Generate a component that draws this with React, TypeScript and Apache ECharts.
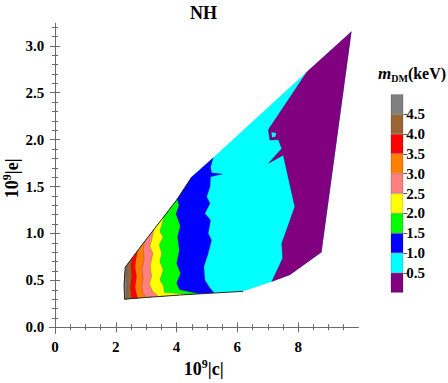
import { useEffect, useRef } from "react";
import * as echarts from "echarts";

const FONT = "'Liberation Serif', 'Times New Roman', serif";
const FRAME = "#6a6a6a";

// axis ranges and ticks
const X_MIN = -0.19;
const X_MAX = 9.98;
const Y_MIN = -0.064;
const Y_MAX = 3.24;
const xMajorTicks = [0, 2, 4, 6, 8];
const xMinorTicks = [0.5, 1, 1.5, 2.5, 3, 3.5, 4.5, 5, 5.5, 6.5, 7, 7.5, 8.5, 9, 9.5];
const yMajorTicks = [0, 0.5, 1, 1.5, 2, 2.5, 3];
const yMinorTicks = [
  0.1, 0.2, 0.3, 0.4, 0.6, 0.7, 0.8, 0.9, 1.1, 1.2, 1.3, 1.4, 1.6, 1.7, 1.8, 1.9,
  2.1, 2.2, 2.3, 2.4, 2.6, 2.7, 2.8, 2.9, 3.1, 3.2,
];

// colour bar (m_DM in keV)
const bandColors = ["#800080", "#00ffff", "#0000ff", "#00ff00", "#ffff00", "#ff8080", "#ff8000", "#ff0000", "#996633", "#808080"];
const bandSteps = [0.5, 0.5, 0.5, 0.5, 0.5, 0.5, 0.5, 0.5, 0.5, 0.5];
const bandEdges = [0.5, 1.0, 1.5, 2.0, 2.5, 3.0, 3.5, 4.0, 4.5];

// outer boundary of the allowed region (10^9|c|, 10^9|e|)
const bottomEdge = [[2.29, 0.3], [3.0, 0.318], [4.1, 0.344], [5.2, 0.365], [6.19, 0.383]];
const rightEdge = [[7.13, 0.486], [7.73, 0.557], [8.77, 0.8], [9.76, 3.155]];
const upperEdge = [[2.31, 0.64], [2.9, 0.895], [3.45, 1.125], [4.0, 1.356], [4.5, 1.604], [5.48, 1.89], [8.28, 2.72]];
const leftEdge = [[2.27, 0.45]];

// contour boundaries (top point on the upper edge -> bottom point on the lower edge)
const grayBrown = [[2.36, 0.662], [2.35, 0.55], [2.37, 0.45], [2.35, 0.36], [2.36, 0.302]];
const brownRed = [[2.55, 0.744], [2.5, 0.66], [2.53, 0.54], [2.48, 0.43], [2.52, 0.33], [2.52, 0.305]];
const redOrange = [[2.72, 0.817], [2.67, 0.74], [2.63, 0.645], [2.68, 0.54], [2.63, 0.43], [2.68, 0.35], [2.72, 0.311]];
const orangePink = [[2.95, 0.916], [2.9, 0.83], [2.93, 0.72], [2.86, 0.62], [2.9, 0.52], [2.85, 0.43], [2.9, 0.36], [3.0, 0.318]];
const pinkYellow = [[3.25, 1.041], [3.2, 0.96], [3.12, 0.86], [3.22, 0.79], [3.13, 0.65], [3.18, 0.54], [3.1, 0.47], [3.2, 0.39], [3.4, 0.328]];
const yellowGreen = [[3.6, 1.188], [3.51, 1.09], [3.45, 1.018], [3.56, 0.965], [3.43, 0.876], [3.51, 0.788], [3.45, 0.699], [3.56, 0.61], [3.45, 0.504], [3.56, 0.45], [3.6, 0.37], [4.5, 0.352]];
const greenBlue = [[4.02, 1.366], [4.08, 1.3], [3.98, 1.21], [4.12, 1.08], [4.03, 0.965], [4.09, 0.82], [4.0, 0.68], [4.13, 0.575], [4.0, 0.47], [4.1, 0.4], [4.75, 0.357]];
const blueCyan = [[5.21, 1.81], [5.12, 1.71], [5.15, 1.646], [5.52, 1.633], [5.12, 1.604], [5.1, 1.497], [4.99, 1.391], [5.1, 1.32], [4.93, 1.214], [5.12, 1.143], [5.04, 1.0], [5.15, 0.93], [5.04, 0.788], [4.9, 0.645], [4.93, 0.504], [5.08, 0.426], [5.24, 0.366]];
// purple / cyan boundary (bottom -> top)
const cyanPurple = [[7.13, 0.486], [7.49, 0.735], [7.46, 0.894], [7.89, 1.284], [7.51, 1.835], [7.02, 1.747], [7.46, 1.906], [7.35, 2.0], [7.07, 1.995], [7.02, 2.1], [7.07, 2.136], [8.28, 2.72]];
const cyanBlob = [[7.12, 2.08], [7.28, 2.07], [7.25, 2.03], [7.14, 2.025]];

function leftRegion(boundary: number[][]) {
  const top = boundary[0];
  const bot = boundary[boundary.length - 1];
  const bottomPts = bottomEdge.filter((p) => p[0] < bot[0]).reverse();
  const upperPts = upperEdge.filter((p) => p[0] < top[0]);
  return [...boundary, ...bottomPts, ...leftEdge, ...upperPts];
}

const outer = [...bottomEdge, ...rightEdge, ...upperEdge.slice().reverse(), ...leftEdge];
const purpleRegion = [...cyanPurple, ...rightEdge.slice(1).reverse()];

function polySeries(pts: number[][], fill: string, z: number) {
  return {
    type: "custom",
    coordinateSystem: "cartesian2d",
    xAxisIndex: 0,
    yAxisIndex: 0,
    silent: true,
    z,
    data: [pts[0]],
    encode: { x: 0, y: 1 },
    renderItem: (_p: any, api: any) => ({
      type: "polygon",
      shape: { points: pts.map((p) => api.coord(p)) },
      style: { fill, stroke: "none" },
    }),
  };
}

function lineSeries(pts: number[][], color: string, width: number, z: number) {
  return {
    type: "line",
    xAxisIndex: 0,
    yAxisIndex: 0,
    data: pts,
    symbol: "none",
    silent: true,
    z,
    lineStyle: { color, width },
  };
}

const labelStyle = { fontFamily: FONT, fontWeight: "bold", fontSize: 15, color: "#000" };

function xAx(position: string, ticks: number[], len: number, labels: boolean, line: boolean) {
  return {
    type: "value",
    gridIndex: 0,
    min: X_MIN,
    max: X_MAX,
    position,
    splitLine: { show: false },
    axisLine: { show: line, lineStyle: { color: FRAME, width: 1 } },
    axisTick: { show: true, inside: true, length: len, customValues: ticks, lineStyle: { color: FRAME, width: 1 } },
    axisLabel: labels
      ? { show: true, customValues: ticks, formatter: (v: number) => String(v), margin: 6, ...labelStyle }
      : { show: false },
  };
}

function yAx(position: string, ticks: number[], len: number, labels: boolean, line: boolean) {
  return {
    type: "value",
    gridIndex: 0,
    min: Y_MIN,
    max: Y_MAX,
    position,
    splitLine: { show: false },
    axisLine: { show: line, lineStyle: { color: FRAME, width: 1 } },
    axisTick: { show: true, inside: true, length: len, customValues: ticks, lineStyle: { color: FRAME, width: 1 } },
    axisLabel: labels
      ? { show: true, customValues: ticks, formatter: (v: number) => v.toFixed(1), margin: 5, ...labelStyle }
      : { show: false },
  };
}

const layerList: [number[][], string][] = [
  [blueCyan, bandColors[2]],
  [greenBlue, bandColors[3]],
  [yellowGreen, bandColors[4]],
  [pinkYellow, bandColors[5]],
  [orangePink, bandColors[6]],
  [redOrange, bandColors[7]],
  [brownRed, bandColors[8]],
  [grayBrown, bandColors[9]],
];

const series: any[] = [
  polySeries(outer, bandColors[1], 2),
  polySeries(purpleRegion, bandColors[0], 3),
  polySeries(cyanBlob, bandColors[1], 4),
  ...layerList.map(([b, c], i) => polySeries(leftRegion(b), c, 5 + i)),
  lineSeries(cyanPurple.slice(0, -1), "rgba(20,60,80,0.55)", 0.8, 20),
  ...layerList.map(([b]) => lineSeries(b, "rgba(0,0,0,0.3)", 0.6, 20)),
  lineSeries([...bottomEdge.slice().reverse(), ...leftEdge, ...upperEdge.slice(0, 5)], "#2a2a2a", 1, 21),
  ...bandSteps.map((v, i) => ({
    type: "bar",
    xAxisIndex: 4,
    yAxisIndex: 4,
    stack: "cb",
    barWidth: "100%",
    silent: true,
    data: [v],
    itemStyle: { color: bandColors[i], borderColor: "rgba(0,0,0,0.3)", borderWidth: 0.6 },
  })),
];

const option: any = {
  animation: false,
  backgroundColor: "#fff",
  grid: [
    { left: 49.3, top: 23.3, width: 309, height: 310, containLabel: false },
    { left: 390.7, top: 94.3, width: 12.6, height: 198.4, containLabel: false },
  ],
  xAxis: [
    xAx("bottom", xMajorTicks, 5, true, true),
    xAx("bottom", xMinorTicks, 3, false, false),
    xAx("top", xMajorTicks, 5, false, true),
    xAx("top", xMinorTicks, 3, false, false),
    { type: "category", gridIndex: 1, data: ["m"], show: false },
  ],
  yAxis: [
    yAx("left", yMajorTicks, 5, true, true),
    yAx("left", yMinorTicks, 3, false, false),
    yAx("right", yMajorTicks, 5, false, true),
    yAx("right", yMinorTicks, 3, false, false),
    {
      type: "value",
      gridIndex: 1,
      min: 0,
      max: 5,
      position: "right",
      splitLine: { show: false },
      axisLine: { show: false },
      axisTick: { show: true, inside: false, length: 4, customValues: bandEdges, lineStyle: { color: "#555" } },
      axisLabel: { show: true, customValues: bandEdges, formatter: (v: number) => v.toFixed(1), margin: 3, ...labelStyle },
    },
  ],
  graphic: [
    {
      type: "text",
      x: 203.5,
      y: 12.5,
      style: { text: "NH", fontFamily: FONT, fontWeight: "bold", fontSize: 18, fill: "#000", align: "center", verticalAlign: "middle" },
    },
    {
      type: "text",
      x: 203.8,
      y: 369,
      style: {
        text: "{a|10}{s|9}{a||c|}",
        align: "center",
        verticalAlign: "middle",
        rich: {
          a: { fontFamily: FONT, fontWeight: "bold", fontSize: 18, fill: "#000", lineHeight: 22 },
          s: { fontFamily: FONT, fontWeight: "bold", fontSize: 12, fill: "#000", lineHeight: 12, verticalAlign: "top" },
        },
      },
    },
    {
      type: "text",
      x: 12,
      y: 178.3,
      rotation: Math.PI / 2,
      style: {
        text: "{a|10}{s|9}{a||e|}",
        align: "center",
        verticalAlign: "middle",
        rich: {
          a: { fontFamily: FONT, fontWeight: "bold", fontSize: 18, fill: "#000", lineHeight: 22 },
          s: { fontFamily: FONT, fontWeight: "bold", fontSize: 12, fill: "#000", lineHeight: 12, verticalAlign: "top" },
        },
      },
    },
    {
      type: "text",
      x: 378,
      y: 73,
      style: {
        text: "{m|m}{d|DM}{k|(keV)}",
        align: "left",
        verticalAlign: "middle",
        rich: {
          m: { fontFamily: FONT, fontWeight: "bold", fontStyle: "italic", fontSize: 17, fill: "#000", lineHeight: 20 },
          d: { fontFamily: FONT, fontWeight: "bold", fontSize: 10, fill: "#000", lineHeight: 20, verticalAlign: "bottom", padding: [6, 0, 0, 0] },
          k: { fontFamily: FONT, fontWeight: "bold", fontSize: 16, fill: "#000", lineHeight: 20 },
        },
      },
    },
  ],
  series,
};

export default function App() {
  const ref = useRef<HTMLDivElement>(null);
  useEffect(() => {
    const chart = echarts.init(ref.current!, null, { renderer: "svg" });
    chart.setOption(option);
    return () => chart.dispose();
  }, []);
  return <div ref={ref} style={{ position: "absolute", left: 0, top: 0, width: 448, height: 383 }} />;
}
